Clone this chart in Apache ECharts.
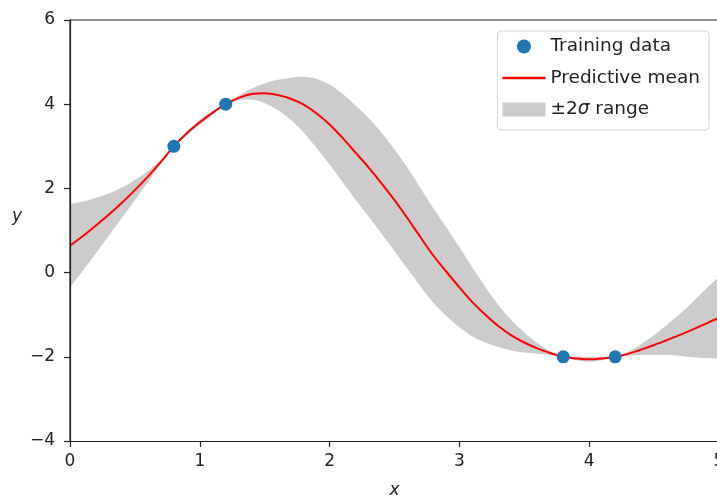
<!DOCTYPE html>
<html>
<head>
<meta charset="utf-8">
<title>GP regression</title>
<script src="https://cdn.jsdelivr.net/npm/echarts/dist/echarts.min.js"></script>
<style>
	html, body { margin: 0; padding: 0; background: #fff; }
	#main { width: 717px; height: 497px; }
</style>
</head>
<body>
<div id="main"></div>
<script>
// values (step 0.1)
var gridX = [0, 0.1, 0.2, 0.3, 0.4, 0.5, 0.6, 0.7, 0.8, 0.9,
	1.0, 1.1, 1.2, 1.3, 1.4, 1.5, 1.6, 1.7, 1.8, 1.9,
	2.0, 2.1, 2.2, 2.3, 2.4, 2.5, 2.6, 2.7, 2.8, 2.9,
	3.0, 3.1, 3.2, 3.3, 3.4, 3.5, 3.6, 3.7, 3.8, 3.9,
	4.0, 4.1, 4.2, 4.3, 4.4, 4.5, 4.6, 4.7, 4.8, 4.9, 5.0];
var meanY = [0.64, 0.87, 1.12, 1.38, 1.66, 1.96, 2.28, 2.63, 3.00, 3.31,
	3.57, 3.80, 4.00, 4.15, 4.24, 4.26, 4.22, 4.13, 3.99, 3.78,
	3.52, 3.20, 2.85, 2.50, 2.12, 1.72, 1.29, 0.84, 0.40, 0.02,
	-0.35, -0.70, -1.00, -1.27, -1.49, -1.66, -1.80, -1.91, -2.00, -2.04,
	-2.06, -2.04, -2.00, -1.93, -1.83, -1.72, -1.60, -1.48, -1.35, -1.21, -1.07];
var twoSigma = [0.99, 0.82, 0.66, 0.50, 0.36, 0.24, 0.13, 0.05, 0.00, 0.04,
	0.06, 0.04, 0.00, 0.05, 0.13, 0.24, 0.36, 0.50, 0.66, 0.82,
	0.95, 1.05, 1.12, 1.17, 1.20, 1.21, 1.20, 1.17, 1.12, 1.05,
	0.95, 0.82, 0.66, 0.50, 0.36, 0.24, 0.13, 0.05, 0.00, 0.04,
	0.06, 0.04, 0.00, 0.05, 0.13, 0.24, 0.36, 0.50, 0.66, 0.82, 0.98];
var trainX = [0.8, 1.2, 3.8, 4.2];
var trainY = [3, 4, -2, -2];

var font = 'DejaVu Sans';
var axisColor = '#222';
var textColor = '#222';

function pairs(xs, ys){
	var out = [];
	for (var i = 0; i < xs.length; i++) {
		out.push([xs[i], ys[i]]);
	}
	return out;
}

var upper = [], lower = [];
for (var i = 0; i < gridX.length; i++) {
	upper.push(meanY[i] + twoSigma[i]);
	lower.push(meanY[i] - twoSigma[i]);
}

var myChart = echarts.init(document.getElementById('main'));
var option = {
	backgroundColor: '#fff',
	animation: false,
	grid: {
		left: 70,
		right: -2,
		top: 20,
		bottom: 56,
		outerBoundsMode: 'none',
		containLabel: false,
		show: true,
		borderColor: axisColor,
		borderWidth: 1.2,
		backgroundColor: 'transparent'
	},
	legend: {
		orient: 'vertical',
		right: 8,
		top: 31,
		padding: [6, 9, 11, 5],
		itemWidth: 43,
		itemHeight: 14,
		itemGap: 12.5,
		itemTextGap: 14,
		backgroundColor: '#fff',
		borderColor: '#d4d4d4',
		borderWidth: 1,
		borderRadius: 4,
		z: 10,
		textStyle: {
			fontFamily: font,
			fontSize: 18.5,
			color: textColor,
			rich: {
				i: { fontFamily: font, fontSize: 18.5, fontStyle: 'italic', color: textColor }
			}
		},
		formatter: function(name){
			if (name === '±2σ range') {
				return '±2{i|σ} range';
			}
			return name;
		},
		data: [
			{name: 'Training data', icon: 'circle'},
			{name: 'Predictive mean', icon: 'path://M0,0 L43,0 L43,2.5 L0,2.5 Z'},
			{name: '±2σ range', icon: 'rect'}
		]
	},
	xAxis: {
		type: 'value',
		min: 0,
		max: 5,
		interval: 1,
		z: 5,
		name: 'x',
		nameLocation: 'middle',
		nameGap: 41,
		nameTextStyle: { fontFamily: font, fontSize: 17, fontStyle: 'italic', color: textColor },
		splitLine: { show: false },
		axisLine: { onZero: false, lineStyle: { color: axisColor, width: 1.2 } },
		axisTick: { length: 6, lineStyle: { color: axisColor, width: 1.2 } },
		axisLabel: { fontFamily: font, fontSize: 17, color: textColor, margin: 12 }
	},
	yAxis: {
		type: 'value',
		min: -4,
		max: 6,
		interval: 2,
		z: 5,
		name: 'y',
		nameLocation: 'middle',
		nameRotate: 0,
		nameGap: 53,
		nameTextStyle: {
			fontFamily: font, fontSize: 17, fontStyle: 'italic', color: textColor,
			align: 'center', verticalAlign: 'bottom', lineHeight: 28
		},
		splitLine: { show: false },
		axisLine: { onZero: false, lineStyle: { color: axisColor, width: 1.2 } },
		axisTick: { length: 6, lineStyle: { color: axisColor, width: 1.2 } },
		axisLabel: {
			fontFamily: font, fontSize: 17, color: textColor, margin: 15,
			formatter: function(v){ return v < 0 ? '\u2212' + Math.abs(v) : String(v); }
		}
	},
	series: [
		{
			// upper edge of the band, filled down to the axis
			name: '±2σ range',
			type: 'line',
			smooth: 0.3,
			symbol: 'none',
			itemStyle: { color: '#cccccc' },
			lineStyle: { opacity: 0 },
			areaStyle: { color: '#cccccc', opacity: 1, origin: 'start' },
			data: pairs(gridX, upper),
			z: 1
		},
		{
			// lower edge of the band, white fill below it
			name: 'band lower',
			type: 'line',
			smooth: 0.3,
			symbol: 'none',
			itemStyle: { color: '#ffffff' },
			lineStyle: { opacity: 0 },
			areaStyle: { color: '#ffffff', opacity: 1, origin: 'start' },
			data: pairs(gridX, lower),
			z: 2
		},
		{
			name: 'Predictive mean',
			type: 'line',
			smooth: 0.3,
			symbol: 'none',
			itemStyle: { color: '#ff0000' },
			lineStyle: { color: '#ff0000', width: 2 },
			data: pairs(gridX, meanY),
			z: 3
		},
		{
			name: 'Training data',
			type: 'scatter',
			symbolSize: 13,
			itemStyle: { color: '#1f77b4', opacity: 1 },
			data: pairs(trainX, trainY),
			z: 4
		}
	]
};
myChart.setOption(option);
</script>
</body>
</html>
